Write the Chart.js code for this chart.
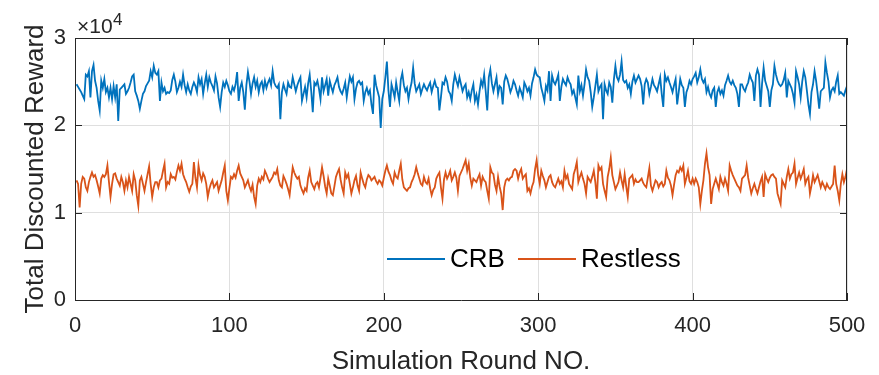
<!DOCTYPE html>
<html>
<head>
<meta charset="utf-8">
<script src="https://cdn.jsdelivr.net/npm/chart.js@4.4.1/dist/chart.umd.min.js"></script>
<style>
  html, body { margin: 0; padding: 0; background: #fff; }
  #wrap { width: 879px; height: 375px; }
</style>
</head>
<body>
<div id="wrap"><canvas id="chart" width="879" height="375"></canvas></div>
<script>
// reward values, in units of 0.01 x 10^4, one per simulation round (1..500)
const crb = [
  247,244,241,238,234,230,258,256,262,232, 262,269,251,243,228,217,251,243,253,238,
  243,232,243,230,245,232,247,205,241,243, 245,247,236,239,243,249,256,258,239,234,
  228,219,228,236,239,245,248,251,262,255, 268,260,258,262,228,249,239,243,236,238,
  237,240,252,258,250,238,243,250,244,258, 246,238,247,240,236,244,249,245,238,255,
  247,253,236,248,258,244,255,249,245,240, 256,248,232,221,238,249,244,251,246,239,
  236,244,240,247,261,228,243,249,238,218, 246,261,250,236,248,255,244,251,238,247,
  250,240,251,243,249,253,246,262,249,245, 243,247,207,238,247,241,236,249,244,243,
  255,247,239,246,251,255,228,236,244,232, 248,258,239,215,249,246,251,242,230,255,
  239,246,253,234,251,244,238,246,250,255, 244,239,236,242,249,232,245,256,250,255,
  230,242,249,251,247,249,228,238,243,236, 240,224,213,258,246,239,232,197,230,239,
  255,273,240,221,247,240,232,249,238,228, 252,260,246,239,243,230,241,249,266,248,
  239,243,247,236,242,247,243,240,245,249, 238,245,251,244,243,217,232,249,247,255,
  250,239,236,228,247,258,251,245,255,247, 239,244,247,232,238,230,240,247,228,235,
  224,239,251,245,258,239,217,255,264,248, 239,247,255,236,245,243,224,250,257,253,
  246,238,243,251,247,240,234,243,238,232, 249,245,239,243,234,248,255,264,258,256,
  255,243,236,228,245,240,262,228,257,250, 247,252,258,228,244,253,249,246,255,250,
  247,236,240,232,224,257,239,246,234,247, 264,255,251,238,221,232,245,258,239,244,
  247,207,247,240,236,249,244,226,252,268, 255,251,258,273,252,249,251,243,247,236,
  250,257,249,253,257,253,245,224,247,253, 249,236,244,253,246,243,239,247,255,236,
  221,258,251,255,249,244,238,246,253,224, 238,253,246,243,221,238,243,251,247,253,
  256,260,249,255,264,253,249,253,238,244, 236,232,240,243,221,238,243,236,240,234,
  246,251,257,250,247,251,246,243,236,221, 247,247,242,239,245,249,258,253,249,228,
  257,264,258,221,248,266,251,245,239,221, 240,247,268,258,251,247,245,247,252,260,
  232,251,247,243,236,226,262,255,247,232, 250,262,255,240,224,213,238,247,262,251,
  236,219,239,241,243,272,260,250,232,240, 243,239,250,257,236,238,236,234,240,245
];

const restless = [
  137,133,106,133,141,139,129,125,135,141, 146,141,143,137,130,122,139,143,141,144,
  154,135,118,133,144,145,139,135,131,141, 135,125,137,129,141,133,125,144,137,120,
  108,137,141,133,125,135,144,153,133,118, 129,135,135,129,137,139,148,156,129,135,
  133,144,140,141,138,147,154,148,156,144, 139,135,129,124,130,133,158,140,129,154,
  143,137,145,141,133,118,127,133,137,129, 132,135,125,131,137,146,154,125,114,128,
  141,139,144,140,148,154,145,141,137,129, 133,137,130,125,132,118,110,131,139,135,
  141,138,148,144,139,135,138,141,146,144, 150,137,131,129,142,138,133,127,120,136,
  152,146,142,139,141,131,126,122,128,125, 140,148,135,131,127,133,135,129,140,152,
  142,130,122,139,131,122,120,130,141,146, 150,138,129,122,146,140,144,133,122,129,
  137,142,131,125,146,139,133,129,138,143, 141,137,139,141,136,133,137,135,131,140,
  148,154,147,143,137,133,146,141,139,148, 156,138,129,127,125,128,129,135,139,144,
  152,145,139,133,131,141,135,133,139,128, 120,126,129,139,143,146,129,116,138,146,
  139,143,148,137,141,146,140,125,142,146, 150,155,160,148,156,140,131,139,137,135,
  140,144,131,141,137,135,125,116,152,146, 144,132,125,141,130,122,103,129,137,139,
  137,140,141,148,150,148,139,146,150,139, 142,144,125,128,122,130,135,150,160,143,
  133,148,142,137,129,135,141,143,135,131, 129,134,139,133,136,129,148,139,143,133,
  130,127,144,150,158,135,141,146,139,133, 122,141,138,135,141,148,135,116,154,149,
  152,133,125,118,141,150,163,143,135,127, 131,135,146,137,129,144,130,118,139,141,
  143,133,138,135,135,137,139,134,131,129, 140,151,131,125,131,137,135,129,133,135,
  130,133,148,140,137,131,120,132,143,148, 146,152,148,154,133,140,148,136,133,139,
  133,139,135,129,110,125,137,156,168,152, 143,110,127,133,139,133,127,141,135,131,
  139,133,125,154,148,143,139,135,131,129, 125,139,141,143,154,140,131,122,128,133,
  127,122,129,136,141,118,144,139,135,140, 143,144,141,139,122,116,110,137,133,129,
  141,150,139,144,146,156,133,140,146,139, 144,150,133,138,141,122,131,143,135,139,
  143,136,129,135,131,127,133,129,127,130, 133,154,133,125,114,133,144,135,141,150
];

const rounds = crb.map((_, i) => i + 1);
const xTicks = [0, 100, 200, 300, 400, 500];
const yTicks = [0, 1, 2, 3];
const seriesNames = ['CRB', 'Restless'];
const seriesColors = ['#0072BD', '#D95319'];

const FONT = '"Liberation Sans", Arial, Helvetica, sans-serif';
const AXIS = '#262626';

// box, inward ticks, x10^4 label and legend, drawn like the matlab figure
const figureExtras = {
    id: 'figureExtras',
    afterDatasetsDraw(chart) {
        const { ctx, chartArea: a, scales } = chart;
        ctx.save();
        ctx.strokeStyle = AXIS;
        ctx.lineWidth = 1;
        ctx.beginPath();
        ctx.moveTo(a.left, a.top + 0.5);
        ctx.lineTo(a.right - 0.5, a.top + 0.5);
        ctx.lineTo(a.right - 0.5, a.bottom);
        xTicks.forEach(v => {
            const px = Math.round(scales.x.getPixelForValue(v)) + 0.5;
            ctx.moveTo(px, a.bottom); ctx.lineTo(px, a.bottom - 7);
            ctx.moveTo(px, a.top); ctx.lineTo(px, a.top + 7);
        });
        yTicks.forEach(v => {
            const py = Math.round(scales.y.getPixelForValue(v)) + 0.5;
            ctx.moveTo(a.left, py); ctx.lineTo(a.left + 7, py);
            ctx.moveTo(a.right, py); ctx.lineTo(a.right - 7, py);
        });
        ctx.stroke();

        // exponent
        ctx.fillStyle = AXIS;
        ctx.textBaseline = 'alphabetic';
        ctx.textAlign = 'left';
        ctx.font = '21px ' + FONT;
        ctx.fillText('\u00d710', 77, 33);
        ctx.font = '17px ' + FONT;
        ctx.fillText('4', 113, 25);

        // legend (no box)
        const legendY = 259;
        const items = [{ x: 387 }, { x: 518 }];
        ctx.font = '26px ' + FONT;
        ctx.textBaseline = 'middle';
        items.forEach((it, i) => {
            ctx.strokeStyle = seriesColors[i];
            ctx.lineWidth = 1.8;
            ctx.beginPath();
            ctx.moveTo(it.x, legendY);
            ctx.lineTo(it.x + 58, legendY);
            ctx.stroke();
            ctx.fillStyle = '#000';
            ctx.fillText(seriesNames[i], it.x + 63, legendY + 1);
        });
        ctx.restore();
    }
};

const ctx = document.getElementById('chart').getContext('2d');
new Chart(ctx, {
    type: 'line',
    data: {
        datasets: [
            {
                label: seriesNames[0],
                data: rounds.map((r, i) => ({ x: r, y: crb[i] / 100 })),
                borderColor: seriesColors[0],
                borderWidth: 1.8,
                pointRadius: 0,
                tension: 0,
                fill: false
            },
            {
                label: seriesNames[1],
                data: rounds.map((r, i) => ({ x: r, y: restless[i] / 100 })),
                borderColor: seriesColors[1],
                borderWidth: 1.8,
                pointRadius: 0,
                tension: 0,
                fill: false
            }
        ]
    },
    options: {
        responsive: false,
        animation: false,
        events: [],
        layout: { padding: { top: 38, right: 32, left: 0, bottom: 0 } },
        plugins: {
            legend: { display: false },
            tooltip: { enabled: false }
        },
        scales: {
            x: {
                type: 'linear',
                min: 0,
                max: 500,
                afterFit: s => { s.height = 75; },
                afterBuildTicks: s => { s.ticks = xTicks.map(v => ({ value: v })); },
                grid: { color: '#dfdfdf', drawTicks: false },
                border: { color: AXIS, width: 1 },
                ticks: { color: AXIS, padding: 13, font: { family: FONT, size: 22 }, maxRotation: 0 },
                title: {
                    display: true,
                    text: 'Simulation Round NO.',
                    color: AXIS,
                    font: { family: FONT, size: 26, lineHeight: 1 },
                    padding: { top: 4, bottom: 0 }
                }
            },
            y: {
                min: 0,
                max: 3,
                afterFit: s => { s.width = 75; },
                afterBuildTicks: s => { s.ticks = yTicks.map(v => ({ value: v })); },
                grid: { color: '#dfdfdf', drawTicks: false },
                border: { color: AXIS, width: 1 },
                ticks: { color: AXIS, padding: 9, font: { family: FONT, size: 22 } },
                title: {
                    display: true,
                    text: 'Total Discounted Reward',
                    color: AXIS,
                    font: { family: FONT, size: 26, lineHeight: 1 },
                    padding: { top: 23, bottom: 0 }
                }
            }
        }
    },
    plugins: [figureExtras]
});
</script>
</body>
</html>
